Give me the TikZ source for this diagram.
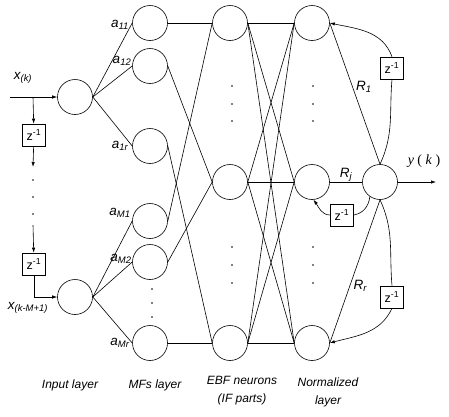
\documentclass[tikz,border=0pt]{standalone}
\usepackage{fontspec}
\setmainfont{Liberation Sans}
\newfontfamily\timesfont{Liberation Serif}
\usetikzlibrary{arrows.meta}

\begin{document}
\begin{tikzpicture}
	[x=1pt,y=1pt,
	every node/.style={font=\fontsize{13.5}{15}\selectfont\itshape},
	neuron/.style={draw,circle,minimum size=35pt,inner sep=0pt,line width=0.6pt},
	delay/.style={draw,minimum width=23pt,minimum height=22pt,inner sep=0pt,line width=0.6pt,
		font=\fontsize{12.5}{14}\selectfont\upshape},
	caption/.style={align=center,font=\fontsize{12}{18}\selectfont\itshape},
	wire/.style={line width=0.6pt},
	arr/.style={wire,-{Latex[length=5pt,width=3.4pt]}}
	]
	\useasboundingbox (0,0) rectangle (449,-416);

	% neurons
	\node[neuron] (in1) at (75,-97) {};
	\node[neuron] (in2) at (75,-297) {};
	\foreach \y [count=\i] in {23,66,146,221,262,343}
		\node[neuron] (mf\i) at (150,-\y) {};
	\foreach \y [count=\i] in {23,182,343}{
		\node[neuron] (ebf\i) at (230,-\y) {};
		\node[neuron] (nrm\i) at (312,-\y) {};
	}
	\node[neuron] (out) at (380,-182) {};

	% tapped delay line
	\coordinate (xk) at (10,-97);
	\coordinate (br) at (33,-97);
	\coordinate (d1) at (33,-167);
	\coordinate (d2) at (33,-225);
	\node[delay] (dl1) at (34,-135) {z\textsuperscript{-1}};
	\node[delay] (dl2) at (34,-264) {z\textsuperscript{-1}};
	\draw[arr] (xk) -- (in1);
	\draw[arr] (br) -- (dl1);
	\draw[arr] (dl1) -- (d1);
	\draw[arr] (d2) -- (dl2);
	\draw[arr] (dl2) |- (in2);
	\foreach \y in {180,197,214}
		\fill (33,-\y) circle (0.8pt);
	\node (xin) at (23,-78) {x\textsubscript{(k)}};
	\node (xold) at (28,-308) {x\textsubscript{(k-M+1)}};

	% input -> MFs
	\foreach \i in {1,2,3}
		\draw[wire] (in1.east) -- (mf\i.west);
	\foreach \i in {4,5,6}
		\draw[wire] (in2.east) -- (mf\i.west);
	\node (a11) at (120,-25) {a\textsubscript{11}};
	\node (a12) at (122,-61) {a\textsubscript{12}};
	\node (a1r) at (120,-146) {a\textsubscript{1r}};
	\node (aM1) at (120,-213) {a\textsubscript{M1}};
	\node (aM2) at (121,-259) {a\textsubscript{M2}};
	\node (aMr) at (120,-343) {a\textsubscript{Mr}};
	\foreach \y in {289,303,317}
		\fill (152,-\y) circle (0.8pt);

	% MFs -> EBF -> normalized
	\foreach \m/\e in {1/1,2/2,3/3,4/1,5/2,6/3}
		\draw[wire] (mf\m.east) -- (ebf\e.west);
	\foreach \e in {1,2,3}
		\foreach \n in {1,2,3}
			\draw[wire] (ebf\e.east) -- (nrm\n.west);
	\foreach \x in {232,313}
		\foreach \y in {86,104,121,247,265,283}
			\fill (\x,-\y) circle (0.8pt);

	% output neuron
	\draw[wire] (nrm1.east) -- node[pos=0.45,right] {R\textsubscript{1}} (out.north);
	\draw[wire] (nrm2) -- node[above=-3pt] {R\textsubscript{j}} (out);
	\draw[wire] (nrm3.east) -- node[pos=0.4,right] {R\textsubscript{r}} (out.south);
	\coordinate (yk) at (436,-182);
	\draw[arr] (out) -- (yk);
	\node[font=\fontsize{14}{16}\timesfont] (ylab) at (424,-161) {\textit{y} ( \textit{k} )};

	% feedback
	\node[delay] (fb1) at (392,-68) {z\textsuperscript{-1}};
	\node[delay] (fb2) at (342,-215) {z\textsuperscript{-1}};
	\node[delay] (fb3) at (392,-297) {z\textsuperscript{-1}};
	\draw[wire] (out.north) to[out=65,in=-95] (fb1.south);
	\draw[arr] (fb1.north) to[out=110,in=-12] (nrm1.east);
	\draw[wire] (out.235) to[out=-95,in=10] (fb2.east);
	\draw[arr] (fb2.west) to[out=180,in=-55] (nrm2.-85);
	\draw[wire] (out.south) to[out=-65,in=95] (fb3.north);
	\draw[arr] (fb3.south) to[out=-115,in=15] (nrm3.east);

	% layer names
	\node[caption] (lbin) at (70,-385) {Input layer};
	\node[caption] (lbmf) at (155,-385) {MFs layer};
	\node[caption] (lbebf) at (242,-391) {EBF neurons\\(IF parts)};
	\node[caption] (lbnrm) at (328,-392) {Normalized\\layer};
\end{tikzpicture}
\end{document}
